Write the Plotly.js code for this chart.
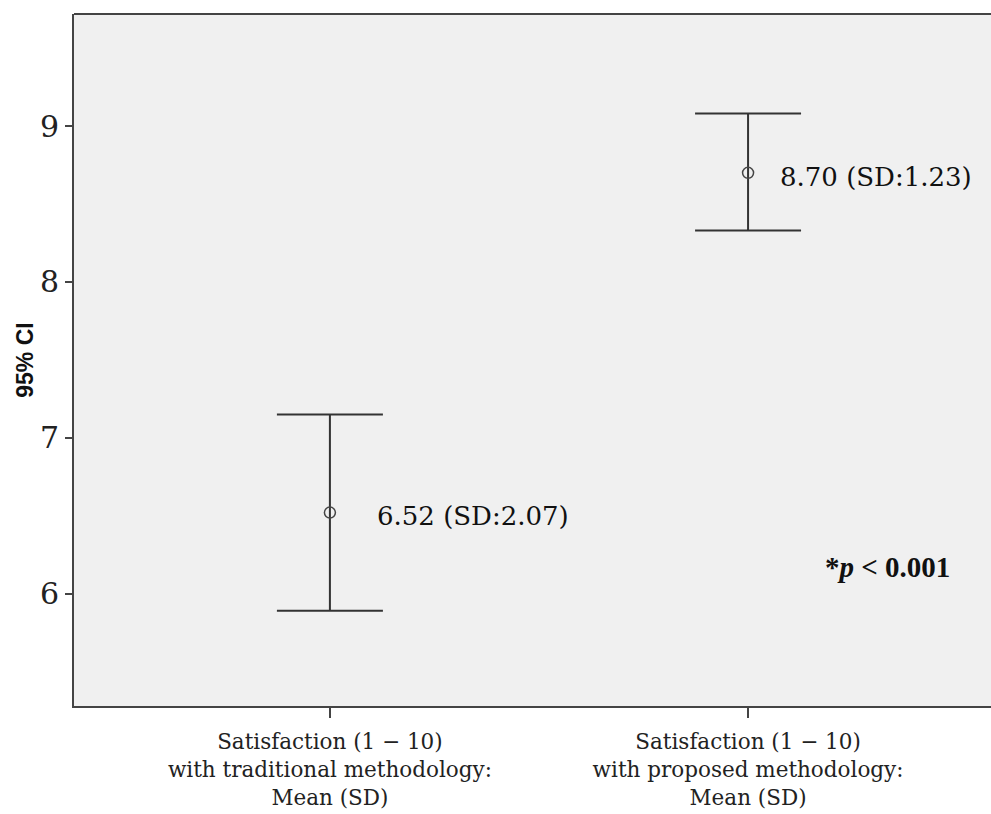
<!DOCTYPE html>
<html>
<head>
<meta charset="utf-8">
<script src="https://cdn.plot.ly/plotly-3.0.1.min.js"></script>
<style>html,body{margin:0;padding:0;background:#fff;overflow:hidden;}</style>
</head>
<body>
<div id="chart" style="width:991px;height:814px;"></div>
<script>
// Data
const categories = [
  "Satisfaction (1 \u2212 10)<br>with traditional methodology:<br>Mean (SD)",
  "Satisfaction (1 \u2212 10)<br>with proposed methodology:<br>Mean (SD)"
];
const means = [6.52, 8.70];
const sds = [2.07, 1.23];
const ciUpper = [7.15, 9.08];
const ciLower = [5.89, 8.33];
const yTicks = [6, 7, 8, 9];
const pText = "*<i>p</i> < 0.001";

const errPlus = means.map((m, i) => ciUpper[i] - m);
const errMinus = means.map((m, i) => m - ciLower[i]);
const labels = means.map((m, i) => m.toFixed(2) + " (SD:" + sds[i].toFixed(2) + ")");

const lineCol = "#333333";
const serif = "DejaVu Serif";

const trace = {
  x: categories,
  y: means,
  type: "scatter",
  mode: "markers",
  marker: {symbol: "circle-open", size: 11, color: "#444", line: {width: 1.5, color: "#444"}},
  error_y: {
    type: "data",
    symmetric: false,
    array: errPlus,
    arrayminus: errMinus,
    color: lineCol,
    thickness: 2,
    width: 53
  },
  hoverinfo: "none",
  showlegend: false
};

const annotations = labels.map((t, i) => ({
  x: categories[i], y: means[i], xref: "x", yref: "y",
  text: t, showarrow: false, xanchor: "left", yanchor: "middle",
  xshift: i === 0 ? 45 : 30, yshift: i === 0 ? -3 : -4,
  font: {family: serif, size: 26, color: "#111"}
}));
annotations.push({
  x: 1.18, y: 6.17, xref: "x", yref: "y",
  text: "<b>" + pText + "</b>", showarrow: false, xanchor: "left", yanchor: "middle",
  font: {family: "Liberation Serif", size: 29, color: "#111"}
});

const layout = {
  width: 991, height: 814,
  margin: {l: 74, r: 0, t: 14, b: 108},
  paper_bgcolor: "#ffffff",
  plot_bgcolor: "#f0f0f0",
  xaxis: {
    type: "category",
    range: [-0.612, 1.581],
    showgrid: false, zeroline: false,
    showline: true, linecolor: "#444", linewidth: 2,
    ticks: "outside", ticklen: 10, tickwidth: 2, tickcolor: "#444",
    ticklabelstandoff: 5,
    tickfont: {family: serif, size: 21.5, color: "#222"},
    fixedrange: true
  },
  yaxis: {
    range: [5.279, 9.719],
    tickvals: yTicks,
    ticktext: yTicks.map(String),
    showgrid: false, zeroline: false,
    showline: true, linecolor: "#444", linewidth: 2,
    ticks: "outside", ticklen: 7, tickwidth: 2, tickcolor: "#444",
    tickfont: {family: serif, size: 30, color: "#222"},
    title: {text: "<b>95% CI</b>", font: {family: "Liberation Sans", size: 23, color: "#111"}, standoff: 0},
    fixedrange: true
  },
  shapes: [{
    type: "line", xref: "paper", yref: "paper",
    x0: 0, x1: 1.02, y0: 1, y1: 1,
    line: {color: "#444", width: 2}
  }],
  annotations: annotations
};

Plotly.newPlot("chart", [trace], layout, {displayModeBar: false, staticPlot: true});
</script>
</body>
</html>
